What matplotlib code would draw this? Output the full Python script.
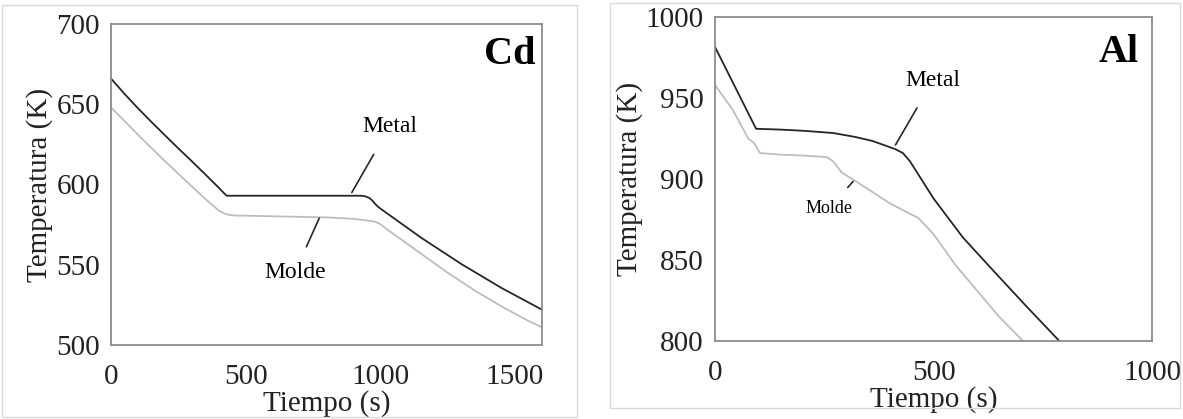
import matplotlib.pyplot as plt
from matplotlib.patches import Rectangle

plt.rcParams['font.family'] = ['Liberation Serif', 'DejaVu Serif']

# Cd panel
cd_metal_t = [0, 50, 100, 150, 200, 250, 300, 350, 400, 420, 430, 600, 800, 930, 945, 960, 970,
              980, 990, 1000, 1025, 1050, 1100, 1150, 1200, 1250, 1300, 1350, 1400, 1450, 1500,
              1550, 1600]
cd_metal_T = [666, 656.5, 647.5, 639, 630.7, 622.5, 614.5, 606.3, 598, 594.5, 593, 593, 593, 593,
              592.6, 591.5, 590, 588, 586.3, 585, 582, 579, 573, 567, 561.5, 556, 550.5, 545.5,
              540.5, 535.5, 531, 526.5, 522]
cd_molde_t = [0, 50, 100, 150, 200, 250, 300, 350, 400, 420, 440, 460, 600, 800, 900, 950, 980,
              1000, 1025, 1050, 1100, 1150, 1200, 1250, 1300, 1350, 1400, 1450, 1500, 1550, 1600]
cd_molde_T = [648, 639.5, 631, 622.7, 614.6, 606.7, 598.8, 591, 583.8, 582, 581, 580.7, 580.2,
              579.5, 578.6, 577.6, 576.8, 575.3, 572, 569, 563, 557, 551, 545, 539.5, 534, 529,
              524, 519.5, 515, 511]

# Al panel
al_metal_t = [0, 94, 150, 200, 270, 320, 360, 412, 430, 446, 500, 567, 628, 714, 788]
al_metal_T = [981.5, 931, 930.5, 929.8, 928.4, 926, 923.5, 918.5, 916, 911, 888, 864, 846, 821, 800]
al_molde_t = [0, 40, 76, 90, 103, 150, 200, 256, 270, 290, 320, 360, 400, 450, 465, 500, 550,
              600, 650, 705]
al_molde_T = [958, 943, 925, 922, 916, 915, 914.5, 913.5, 911, 904, 899, 892, 885, 878, 876, 866,
              847, 831, 815, 800]

metal_color = '#262626'
molde_color = '#bdbdbd'
spine_color = '#8c8c8c'

fig = plt.figure(figsize=(11.83, 4.19), dpi=100)

# panel frames
fig.add_artist(Rectangle((2 / 1183, 2 / 419), 575 / 1183, 412 / 419, transform=fig.transFigure,
                         fill=False, edgecolor='#d9d9d9', lw=1))
fig.add_artist(Rectangle((610 / 1183, 11 / 419), 570 / 1183, 405 / 419, transform=fig.transFigure,
                         fill=False, edgecolor='#d9d9d9', lw=1))


def style_axes(ax):
    for s in ax.spines.values():
        s.set_color(spine_color)
        s.set_linewidth(1.3)
    ax.tick_params(length=0, labelsize=21, colors='#222222')
    ax.tick_params(axis='x', pad=14)
    ax.tick_params(axis='y', pad=8)
    ax.set_xlabel('Tiempo (s)', fontsize=21, color='#222222', labelpad=0)
    ax.set_ylabel('Temperatura (K)', fontsize=21, color='#222222', labelpad=2)


ax1 = fig.add_axes([111 / 1183, 1 - 345 / 419, 431 / 1183, 321 / 419])
ax1.plot(cd_molde_t, cd_molde_T, color=molde_color, lw=1.3)
ax1.plot(cd_metal_t, cd_metal_T, color=metal_color, lw=1.3)
ax1.set_xlim(0, 1600)
ax1.set_ylim(500, 700)
ax1.set_xticks([0, 500, 1000, 1500])
ax1.set_yticks([500, 550, 600, 650, 700])
style_axes(ax1)
ax1.text(1480, 681, 'Cd', fontsize=29, fontweight='bold', ha='center', va='center')
ax1.annotate('Metal', xy=(894, 595), xytext=(1034, 636), fontsize=17, ha='center', va='center',
             arrowprops=dict(arrowstyle='-', color=metal_color, lw=1.2, shrinkA=12, shrinkB=0))
ax1.annotate('Molde', xy=(773, 579), xytext=(682, 545), fontsize=17, ha='center', va='center',
             arrowprops=dict(arrowstyle='-', color=metal_color, lw=1.2, shrinkA=10, shrinkB=0))

ax2 = fig.add_axes([715 / 1183, 1 - 341 / 419, 437 / 1183, 324 / 419])
ax2.plot(al_molde_t, al_molde_T, color=molde_color, lw=1.3)
ax2.plot(al_metal_t, al_metal_T, color=metal_color, lw=1.3)
ax2.set_xlim(0, 1000)
ax2.set_ylim(800, 1000)
ax2.set_xticks([0, 500, 1000])
ax2.set_yticks([800, 850, 900, 950, 1000])
style_axes(ax2)
ax2.text(925, 978, 'Al', fontsize=29, fontweight='bold', ha='center', va='center')
ax2.annotate('Metal', xy=(413, 921), xytext=(499, 961), fontsize=17, ha='center', va='center',
             arrowprops=dict(arrowstyle='-', color=metal_color, lw=1.2, shrinkA=12, shrinkB=0))
ax2.annotate('Molde', xy=(316, 898.5), xytext=(262, 882), fontsize=13, ha='center', va='center',
             arrowprops=dict(arrowstyle='-', color=metal_color, lw=1.2, shrinkA=9, shrinkB=0))

fig.savefig('out.png', dpi=100)
